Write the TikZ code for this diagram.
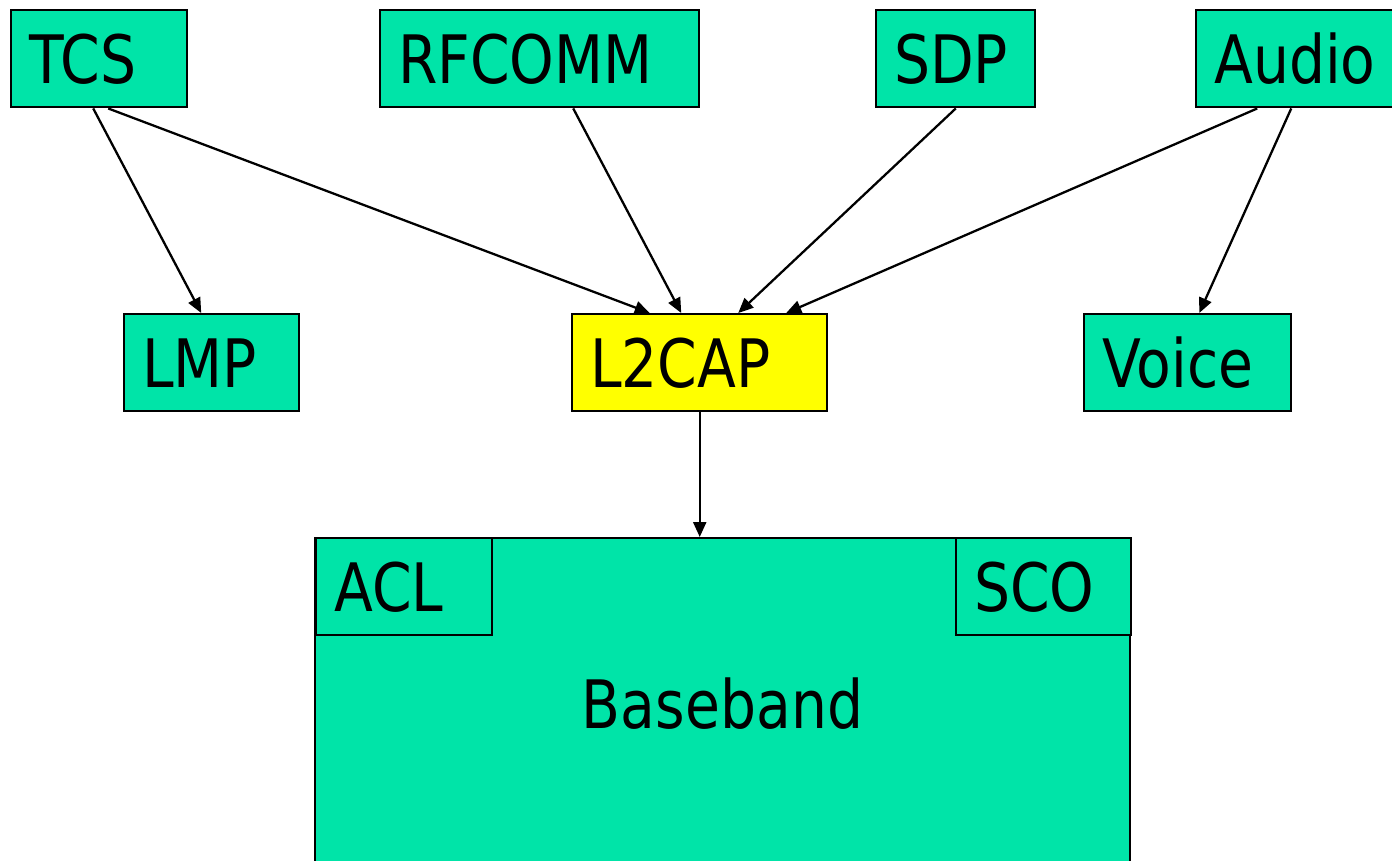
\documentclass[tikz,border=0pt]{standalone}
\usepackage{fontspec}
\setmainfont{DejaVu Sans}[FakeStretch=0.85]
\usetikzlibrary{arrows.meta, positioning}
\definecolor{green1}{RGB}{0, 228, 168}
\definecolor{yellow1}{RGB}{255, 255, 0}

\begin{document}
\begin{tikzpicture}[
    box/.style={rectangle, draw, line width=0.7pt, fill=green1, anchor=north west, minimum height=0.97cm,
        inner xsep=0.18cm, text height=0.49cm, text depth=0cm, align=left, font=\fontsize{19}{23}\selectfont},
    arrow/.style={-{Triangle[length=0.15cm, width=0.13cm]}, line width=0.65pt}]
    \useasboundingbox (0,0) rectangle (13.92,-8.60);
    % top row
    \node[box, text width=1.40cm] (tcs) at (0.10,-0.09) {TCS};
    \node[box, text width=2.83cm] (rfcomm) at (3.79,-0.09) {RFCOMM};
    \node[box, text width=1.23cm] (sdp) at (8.75,-0.09) {SDP};
    \node[box, text width=1.69cm] (audio) at (11.95,-0.09) {Audio};
    % middle row
    \node[box, text width=1.39cm] (lmp) at (1.23,-3.13) {LMP};
    \node[box, text width=2.19cm, fill=yellow1] (ltwocap) at (5.71,-3.13) {L2CAP};
    \node[box, text width=1.71cm] (voice) at (10.83,-3.13) {Voice};
    % baseband
    \node[box, anchor=north, minimum width=8.15cm, minimum height=3.31cm, text width=, align=center] (baseband) at (7.225,-5.37) {Baseband};
    \node[box, text width=1.40cm] (acl) at (3.15,-5.37) {ACL};
    \node[box, text width=1.39cm] (sco) at (9.55,-5.37) {SCO};
    % connectors
    \draw[arrow] ([xshift=-0.06cm]tcs.south) -- ([xshift=-0.105cm]lmp.north);
    \draw[arrow] ([xshift=0.09cm]tcs.south) -- ([xshift=-0.50cm]ltwocap.north);
    \draw[arrow] ([xshift=0.335cm]rfcomm.south) -- ([xshift=-0.185cm]ltwocap.north);
    \draw[arrow] (sdp.south) -- ([xshift=0.385cm]ltwocap.north);
    \draw[arrow] ([xshift=-0.415cm]audio.south) -- ([xshift=0.865cm]ltwocap.north);
    \draw[arrow] ([xshift=-0.075cm]audio.south) -- ([xshift=0.115cm]voice.north);
    \draw[arrow] (ltwocap.south) -- (ltwocap.south |- baseband.north);
\end{tikzpicture}
\end{document}
